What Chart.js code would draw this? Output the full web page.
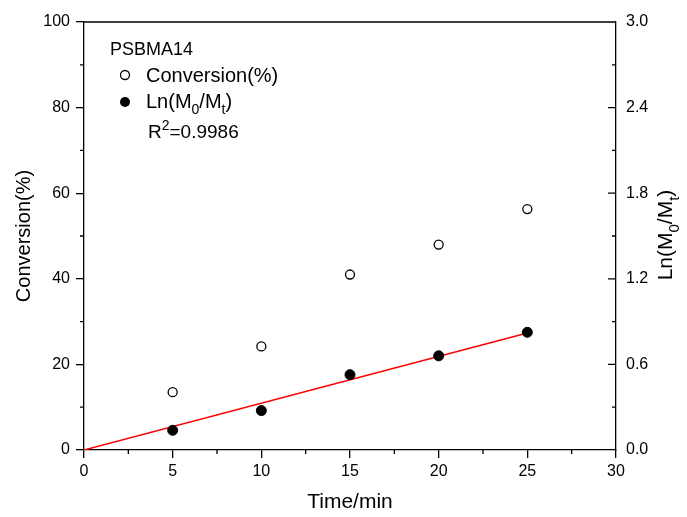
<!DOCTYPE html>
<html>
<head>
<meta charset="utf-8">
<script src="https://cdn.jsdelivr.net/npm/chart.js@4"></script>
<style>
  body { margin: 0; background: #fff; }
  #wrap { width: 687px; height: 517px; }
</style>
</head>
<body>
<div id="wrap"><canvas id="myChart" width="687" height="517"></canvas></div>
<script>
// data
let time = [5, 10, 15, 20, 25];
let conversion = [13.5, 24.2, 41.0, 48.0, 56.3];
let lnRatio = [0.138, 0.276, 0.528, 0.66, 0.825];
let fitTime = [0, 25];
let fitLn = [0, 0.82];

let FONT = 'Liberation Sans, Arial, sans-serif';

// minor ticks + inward ticks on the right axis, top frame line
let axisDecor = {
    id: 'axisDecor',
    afterDraw(chart) {
        let ctx = chart.ctx;
        let a = chart.chartArea;
        let sx = chart.scales.x, sy = chart.scales.y, sy1 = chart.scales.y1;
        ctx.save();
        ctx.strokeStyle = '#000';
        ctx.lineWidth = 1.3;
        ctx.beginPath();
        ctx.moveTo(a.left, a.top);
        ctx.lineTo(a.right, a.top);
        // minor x ticks (outward, down)
        for (let v = 2.5; v < 30; v += 5) {
            let px = sx.getPixelForValue(v);
            ctx.moveTo(px, a.bottom);
            ctx.lineTo(px, a.bottom + 4);
        }
        // minor y ticks (outward, left)
        for (let v = 10; v < 100; v += 20) {
            let py = sy.getPixelForValue(v);
            ctx.moveTo(a.left, py);
            ctx.lineTo(a.left - 4, py);
        }
        // right axis ticks point inward
        for (let i = 1; i <= 10; i++) {
            let v = i * 0.3;
            let py = sy1.getPixelForValue(v);
            let len = (i % 2 === 0) ? 8 : 4;
            ctx.moveTo(a.right, py);
            ctx.lineTo(a.right - len, py);
        }
        ctx.stroke();

        // right axis title with subscripts
        ctx.fillStyle = '#000';
        ctx.translate(665, (a.top + a.bottom) / 2 - 1);
        ctx.rotate(-Math.PI / 2);
        drawSubText(ctx, [['Ln(M', 0], ['0', 1], ['/M', 0], ['t', 1], [')', 0]], 21, 'center', 0);
        ctx.restore();

        // legend block
        ctx.save();
        ctx.fillStyle = '#000';
        ctx.textBaseline = 'alphabetic';
        ctx.font = '18px ' + FONT;
        ctx.fillText('PSBMA14', 110, 55);

        ctx.lineWidth = 1.3;
        ctx.strokeStyle = '#000';
        ctx.beginPath();
        ctx.arc(125, 75, 4.5, 0, Math.PI * 2);
        ctx.fillStyle = '#fff';
        ctx.fill();
        ctx.stroke();
        ctx.fillStyle = '#000';
        ctx.font = '20px ' + FONT;
        ctx.fillText('Conversion(%)', 146, 82);

        ctx.beginPath();
        ctx.arc(125, 102, 5, 0, Math.PI * 2);
        ctx.fill();
        ctx.translate(146, 108);
        drawSubText(ctx, [['Ln(M', 0], ['0', 1], ['/M', 0], ['t', 1], [')', 0]], 20, 'left', 0);
        ctx.restore();

        ctx.save();
        ctx.fillStyle = '#000';
        ctx.translate(148, 138);
        drawSubText(ctx, [['R', 0], ['2', -1], ['=0.9986', 0]], 19, 'left', 0);
        ctx.restore();
    }
};

// pieces: [text, 0 normal | 1 subscript | -1 superscript]
function drawSubText(ctx, pieces, size, align, y) {
    let small = Math.round(size * 0.72);
    let total = 0;
    pieces.forEach(p => {
        ctx.font = (p[1] ? small : size) + 'px ' + FONT;
        total += ctx.measureText(p[0]).width;
    });
    let x = align === 'center' ? -total / 2 : 0;
    ctx.textBaseline = 'alphabetic';
    ctx.textAlign = 'left';
    pieces.forEach(p => {
        ctx.font = (p[1] ? small : size) + 'px ' + FONT;
        let dy = p[1] === 1 ? size * 0.3 : (p[1] === -1 ? -size * 0.42 : 0);
        ctx.fillText(p[0], x, y + dy + (align === 'center' ? size * 0.35 : 0));
        x += ctx.measureText(p[0]).width;
    });
}

let ctx = document.getElementById('myChart').getContext('2d');

let chart = new Chart(ctx, {
    type: 'scatter',
    data: {
        datasets: [
            {
                label: 'fit',
                type: 'line',
                data: fitTime.map((t, i) => ({x: t, y: fitLn[i]})),
                yAxisID: 'y1',
                borderColor: '#ff0000',
                borderWidth: 1.5,
                pointRadius: 0,
                fill: false,
                order: 3
            },
            {
                label: 'Conversion(%)',
                data: time.map((t, i) => ({x: t, y: conversion[i]})),
                yAxisID: 'y',
                pointRadius: 4.5,
                pointBackgroundColor: '#fff',
                pointBorderColor: '#000',
                pointBorderWidth: 1.3,
                order: 1
            },
            {
                label: 'Ln(M0/Mt)',
                data: time.map((t, i) => ({x: t, y: lnRatio[i]})),
                yAxisID: 'y1',
                pointRadius: 5,
                pointBackgroundColor: '#000',
                pointBorderColor: '#000',
                pointBorderWidth: 1,
                order: 2
            }
        ]
    },
    options: {
        responsive: false,
        animation: false,
        layout: { padding: { top: 22, left: 0, right: 0, bottom: 0 } },
        plugins: {
            legend: { display: false },
            tooltip: { enabled: false }
        },
        scales: {
            x: {
                type: 'linear',
                min: 0,
                max: 30,
                ticks: { stepSize: 5, color: '#000', font: { family: FONT, size: 16 }, padding: 4 },
                grid: { drawOnChartArea: false, color: '#000', tickLength: 8, lineWidth: 1.3 },
                border: { color: '#000', width: 1.3 },
                title: { display: true, text: 'Time/min', color: '#000', font: { family: FONT, size: 21 }, padding: { top: 0, bottom: 2 } },
                afterFit(s) { s.height = 67; }
            },
            y: {
                position: 'left',
                min: 0,
                max: 100,
                ticks: { stepSize: 20, color: '#000', font: { family: FONT, size: 16 }, padding: 6 },
                grid: { drawOnChartArea: false, color: '#000', tickLength: 8, lineWidth: 1.3 },
                border: { color: '#000', width: 1.3 },
                title: { display: true, text: 'Conversion(%)', color: '#000', font: { family: FONT, size: 20 }, padding: { top: 12, bottom: 0 } },
                afterFit(s) { s.width = 84; }
            },
            y1: {
                position: 'right',
                min: 0,
                max: 3,
                ticks: {
                    stepSize: 0.6,
                    color: '#000',
                    font: { family: FONT, size: 16 },
                    padding: 10,
                    callback: v => v.toFixed(1)
                },
                grid: { display: false, drawTicks: false },
                border: { color: '#000', width: 1.3 },
                afterFit(s) { s.width = 71; }
            }
        }
    },
    plugins: [axisDecor]
});
</script>
</body>
</html>
